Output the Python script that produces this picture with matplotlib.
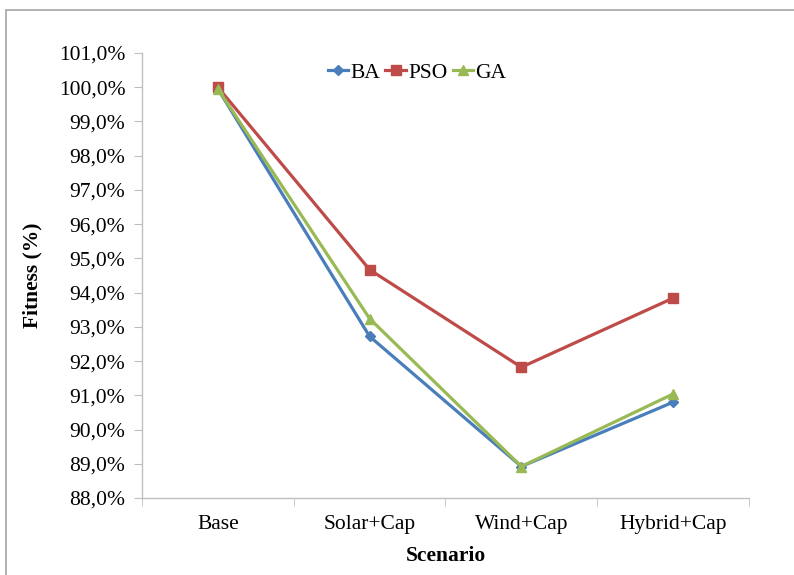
import matplotlib
matplotlib.use("Agg")
import matplotlib.pyplot as plt
from matplotlib.patches import Rectangle
from matplotlib.ticker import FuncFormatter

# data
scenarios = ["Base", "Solar+Cap", "Wind+Cap", "Hybrid+Cap"]
ba = [99.95, 92.72, 88.92, 90.80]
pso = [100.0, 94.67, 91.82, 93.84]
ga = [99.95, 93.24, 88.92, 91.04]

plt.rcParams['font.family'] = ['Liberation Serif', 'DejaVu Serif']

fig = plt.figure(figsize=(7.94, 5.75), dpi=100)
ax = fig.add_axes([142/794, 77/575, 607/794, 445/575])

# grey frame round the whole chart
fig.patches.append(Rectangle((6/794, -0.1), 1.2, (570-5)/575 + 0.1, transform=fig.transFigure,
                             fill=False, edgecolor='#a6a6a6', linewidth=1.2))

x = list(range(len(scenarios)))
ax.plot(x, ba, color='#4a7ebb', lw=2.3, marker='D', ms=5, label='BA')
ax.plot(x, pso, color='#be4b48', lw=2.3, marker='s', ms=6.5, label='PSO')
ax.plot(x, ga, color='#98b954', lw=2.3, marker='^', ms=6.5, label='GA')

ax.set_xlim(-0.5, len(scenarios) - 0.5)
ax.set_ylim(88, 101)
ax.set_yticks(range(88, 102))
ax.yaxis.set_major_formatter(FuncFormatter(lambda v, p: "{:.1f}%".format(v).replace('.', ',')))
ax.set_xticks(x)
ax.set_xticklabels(scenarios)
ax.set_xticks([i - 0.5 for i in range(len(scenarios) + 1)], minor=True)

for s in ['top', 'right']:
    ax.spines[s].set_visible(False)
for s in ['left', 'bottom']:
    ax.spines[s].set_color('#bfbfbf')
    ax.spines[s].set_linewidth(1)

ax.tick_params(axis='y', length=6, color='#bfbfbf', labelsize=15.5, pad=6)
ax.tick_params(axis='x', which='major', length=0, labelsize=15.5, pad=12)
ax.tick_params(axis='x', which='minor', length=6, color='#bfbfbf')

ax.set_xlabel("Scenario", fontsize=15.5, fontweight='bold', labelpad=9)
ax.set_ylabel("Fitness (%)", fontsize=15.5, fontweight='bold', labelpad=12)

ax.legend(loc='upper center', bbox_to_anchor=(0.453, 1.022), ncol=3, frameon=False,
          fontsize=15.5, handlelength=0.95, handletextpad=0.1, columnspacing=0.25)

plt.savefig("out.png", dpi=100)
